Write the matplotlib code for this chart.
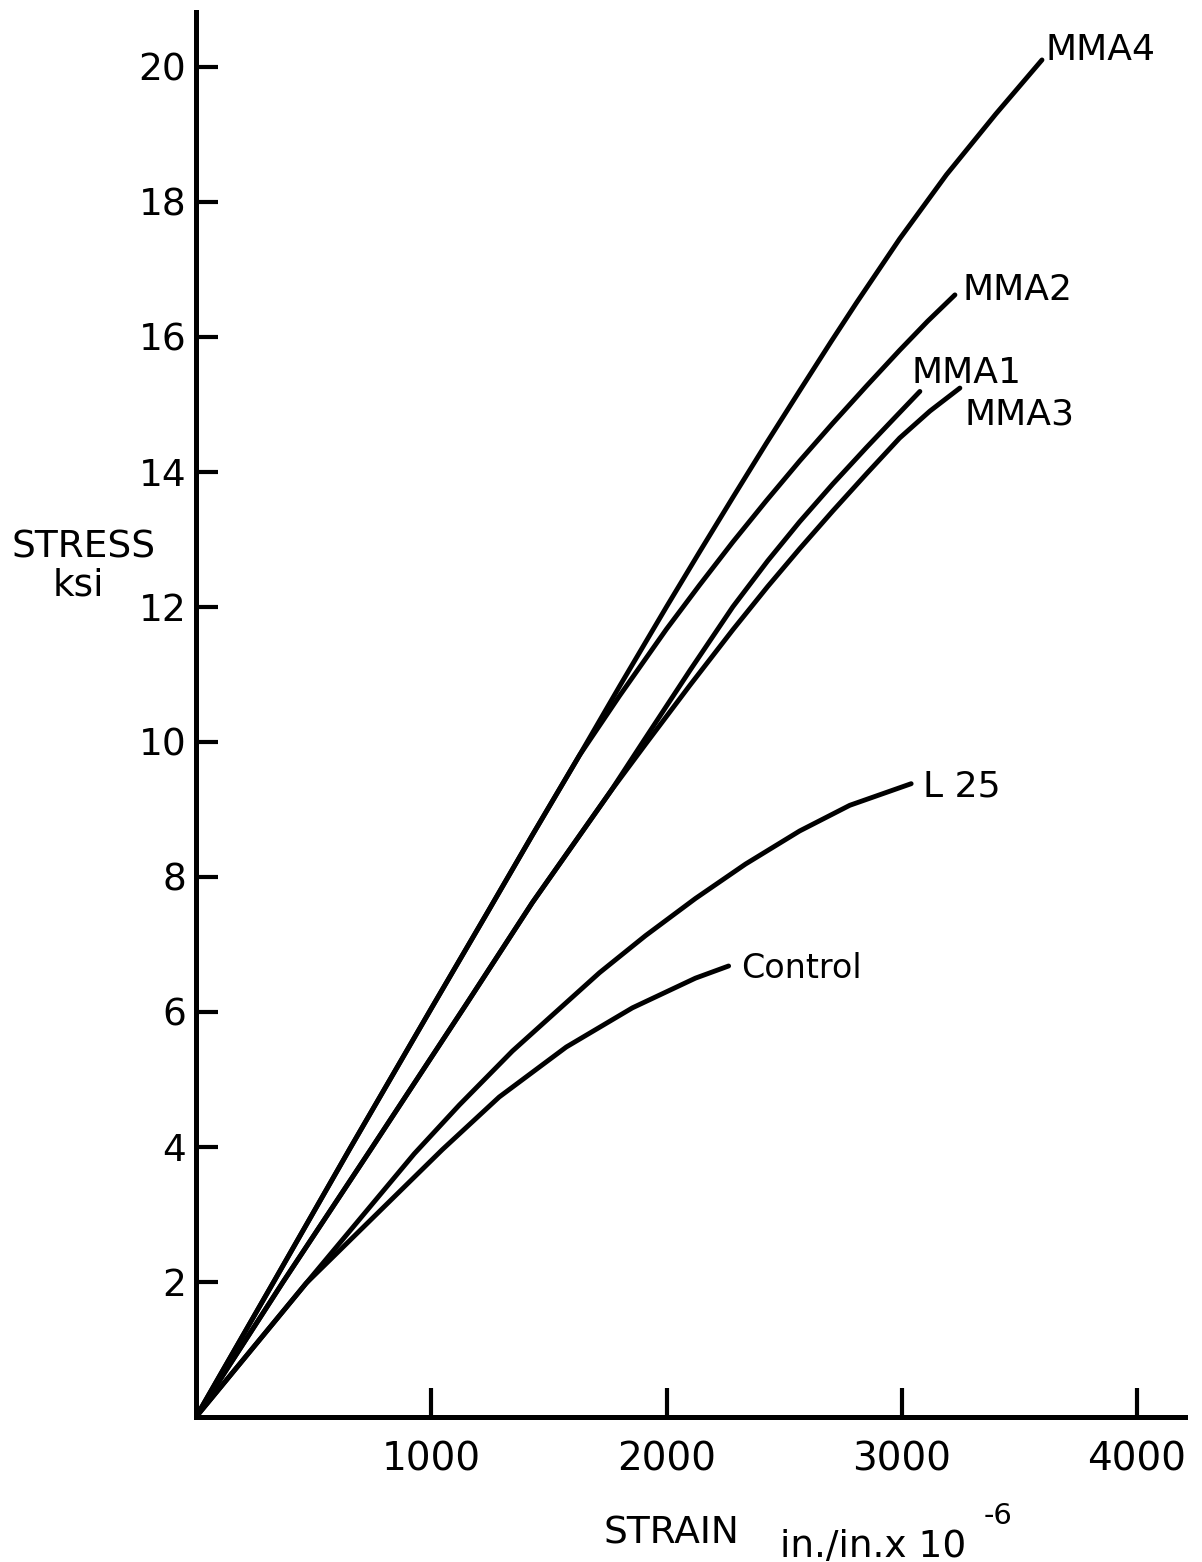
import numpy as np
import matplotlib
matplotlib.use('Agg')
from matplotlib import pyplot as plt

W, H = 1202, 1562

# shared low-stress segments (curves coincide there)
a_strain = [0, 330, 655, 1000, 1235, 1430, 1630]
a_stress = [0, 2.0, 3.98, 6.05, 7.45, 8.62, 9.8]
b_strain = [0, 370, 750, 1150, 1430, 1765]
b_stress = [0, 2.0, 4.0, 6.12, 7.62, 9.28]
c_strain = [0, 468]
c_stress = [0, 1.98]

mma4_strain = [1800, 2000, 2140, 2282, 2424, 2566, 2700, 2807, 2991, 3190, 3400, 3596]
mma4_stress = [10.82, 12.0, 12.81, 13.62, 14.42, 15.2, 15.93, 16.5, 17.45, 18.4, 19.3, 20.1]
mma2_strain = [1800, 2000, 2140, 2282, 2424, 2566, 2707, 2850, 2991, 3110, 3226]
mma2_stress = [10.68, 11.67, 12.32, 12.96, 13.57, 14.16, 14.72, 15.27, 15.8, 16.23, 16.62]
mma1_strain = [1900, 2100, 2282, 2430, 2566, 2707, 2850, 2970, 3077]
mma1_stress = [10.0, 11.06, 12.0, 12.68, 13.26, 13.82, 14.36, 14.8, 15.19]
mma3_strain = [1914, 2100, 2282, 2430, 2566, 2707, 2850, 2991, 3120, 3247]
mma3_stress = [9.98, 10.84, 11.66, 12.3, 12.86, 13.42, 13.97, 14.5, 14.9, 15.24]
l25_strain = [928, 1119, 1345, 1715, 1911, 2123, 2336, 2566, 2779, 3040]
l25_stress = [3.90, 4.62, 5.42, 6.58, 7.13, 7.68, 8.19, 8.68, 9.06, 9.38]
control_strain = [1047, 1289, 1574, 1855, 2123, 2264]
control_stress = [3.96, 4.74, 5.48, 6.06, 6.5, 6.68]

series = [
    ('MMA4', a_strain + mma4_strain, a_stress + mma4_stress),
    ('MMA2', a_strain + mma2_strain, a_stress + mma2_stress),
    ('MMA1', b_strain + mma1_strain, b_stress + mma1_stress),
    ('MMA3', b_strain + mma3_strain, b_stress + mma3_stress),
    ('L 25', c_strain + l25_strain, c_stress + l25_stress),
    ('Control', c_strain + control_strain, c_stress + control_stress),
]

# label anchor (left, baseline) in data units
label_pos = {'MMA4': (3613, 20.1), 'MMA2': (3260, 16.55), 'MMA1': (3043, 15.32),
             'MMA3': (3268, 14.7), 'L 25': (3089, 9.19), 'Control': (2319, 6.5)}
label_size = {'MMA4': 26, 'MMA2': 26, 'MMA1': 26, 'MMA3': 26, 'L 25': 26, 'Control': 24}

xticks = [1000, 2000, 3000, 4000]
yticks = [2, 4, 6, 8, 10, 12, 14, 16, 18, 20]

fig = plt.figure(figsize=(W / 100, H / 100), dpi=100)
ax = fig.add_axes([196 / W, (H - 1417) / H, (1185 - 196) / W, (1417 - 12) / H])

for name, xs, ys in series:
    ax.plot(xs, ys, color='black', lw=3.5, solid_capstyle='round', solid_joinstyle='round')
    lx, ly = label_pos[name]
    ax.text(lx, ly, name, fontsize=label_size[name], ha='left', va='baseline')

ax.set_xlim(0, 4204)
ax.set_ylim(0, 20.81)
ax.spines['top'].set_visible(False)
ax.spines['right'].set_visible(False)
ax.spines['left'].set_linewidth(3.6)
ax.spines['bottom'].set_linewidth(3.6)
ax.set_xticks(xticks)
ax.set_yticks(yticks)
ax.tick_params(axis='y', direction='in', length=16, width=3, labelsize=27, pad=7)
ax.tick_params(axis='x', direction='in', length=21, width=3, labelsize=28, pad=17)


def fig_text(px, py, s, **kw):
    fig.text(px / W, 1 - py / H, s, **kw)


fig_text(12, 557, 'STRESS', fontsize=27, ha='left', va='baseline')
fig_text(53, 595, 'ksi', fontsize=27, ha='left', va='baseline')
fig_text(603, 1543, 'STRAIN', fontsize=27, ha='left', va='baseline')
fig_text(780, 1557, 'in./in.x 10', fontsize=27, ha='left', va='baseline')
fig_text(984, 1524, '-6', fontsize=21, ha='left', va='baseline')

fig.savefig('out.png', dpi=100, facecolor='white')
